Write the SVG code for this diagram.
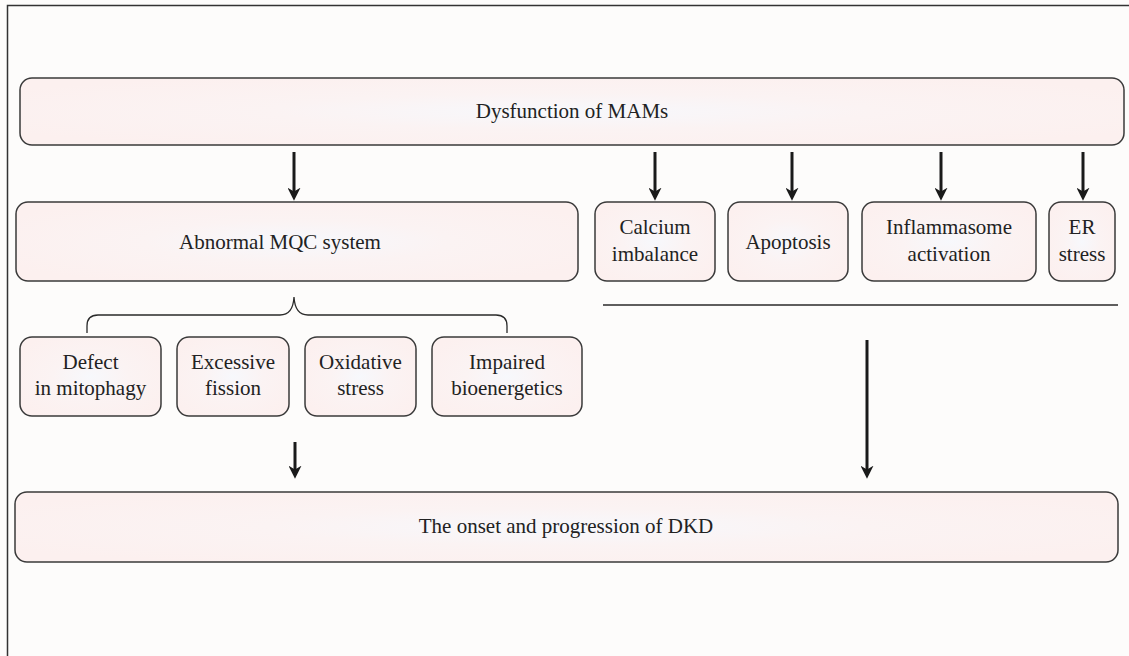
<svg xmlns="http://www.w3.org/2000/svg" width="1129" height="656" viewBox="0 0 1129 656">
<defs>
<radialGradient id="g" cx="0.5" cy="0.5" r="0.6">
<stop offset="0" stop-color="#f7f8fc"/>
<stop offset="0.45" stop-color="#fbf3f3"/>
<stop offset="1" stop-color="#fcf0ef"/>
</radialGradient>
<marker id="ah" markerUnits="userSpaceOnUse" markerWidth="13" markerHeight="13" viewBox="0 0 12 12" refX="4" refY="6" orient="auto">
<path d="M0,0 L12,6 L0,12 L3.5,6 z" fill="#1a1a1a"/>
</marker>
<style>
.box{fill:url(#g);stroke:#3a3a3a;stroke-width:1.5}
.t{font-family:"Liberation Serif","Times New Roman",serif;font-size:21px;fill:#222;text-anchor:middle}
.ar{stroke:#1a1a1a;stroke-width:3;fill:none;marker-end:url(#ah)}
.ln{stroke:#2a2a2a;stroke-width:1.3;fill:none}
</style>
</defs>
<rect x="0" y="0" width="1129" height="656" fill="#fdfcfb"/>
<path d="M7.5,656 V5.5 H1129" stroke="#333" stroke-width="1.5" fill="none"/>

<g id="n-dysfunction"><rect class="box" x="20" y="78" width="1104" height="67" rx="12"/><text class="t" x="572" y="118">Dysfunction of MAMs</text></g>

<g id="n-mqc"><rect class="box" x="16" y="202" width="562" height="79" rx="12"/><text class="t" x="280" y="249">Abnormal MQC system</text></g>

<g id="n-calcium"><rect class="box" x="595" y="202" width="120" height="79" rx="12"/><text class="t" x="655" y="234">Calcium</text><text class="t" x="655" y="261">imbalance</text></g>
<g id="n-apoptosis"><rect class="box" x="728" y="202" width="120" height="79" rx="12"/><text class="t" x="788" y="249">Apoptosis</text></g>
<g id="n-inflammasome"><rect class="box" x="862" y="202" width="174" height="79" rx="12"/><text class="t" x="949" y="234">Inflammasome</text><text class="t" x="949" y="261">activation</text></g>
<g id="n-er"><rect class="box" x="1049" y="202" width="66" height="79" rx="12"/><text class="t" x="1082" y="234">ER</text><text class="t" x="1082" y="261">stress</text></g>

<g id="n-defect"><rect class="box" x="20" y="337" width="141" height="79" rx="12"/><text class="t" x="90.5" y="369">Defect</text><text class="t" x="90.5" y="395">in mitophagy</text></g>
<g id="n-fission"><rect class="box" x="177" y="337" width="112" height="79" rx="12"/><text class="t" x="233" y="369">Excessive</text><text class="t" x="233" y="395">fission</text></g>
<g id="n-oxidative"><rect class="box" x="305" y="337" width="111" height="79" rx="12"/><text class="t" x="360.5" y="369">Oxidative</text><text class="t" x="360.5" y="395">stress</text></g>
<g id="n-bioenergetics"><rect class="box" x="432" y="337" width="150" height="79" rx="12"/><text class="t" x="507" y="369">Impaired</text><text class="t" x="507" y="395">bioenergetics</text></g>

<g id="n-dkd"><rect class="box" x="15" y="492" width="1103" height="70" rx="12"/><text class="t" x="566" y="533">The onset and progression of DKD</text></g>

<g id="connectors">
<path class="ar" d="M294,152 V192"/>
<path class="ar" d="M655,152 V192"/>
<path class="ar" d="M792,152 V192"/>
<path class="ar" d="M941,152 V192"/>
<path class="ar" d="M1083,152 V192"/>
<path class="ar" d="M295,442 V470"/>
<path class="ar" d="M867,340 V470"/>
<path class="ln" d="M603,305 H1118"/>
<path class="ln" d="M87,333 V326 Q87,315 98,315 H280 Q293,315 294,297 Q295,315 308,315 H496 Q507,315 507,326 V333"/>
</g>
</svg>
